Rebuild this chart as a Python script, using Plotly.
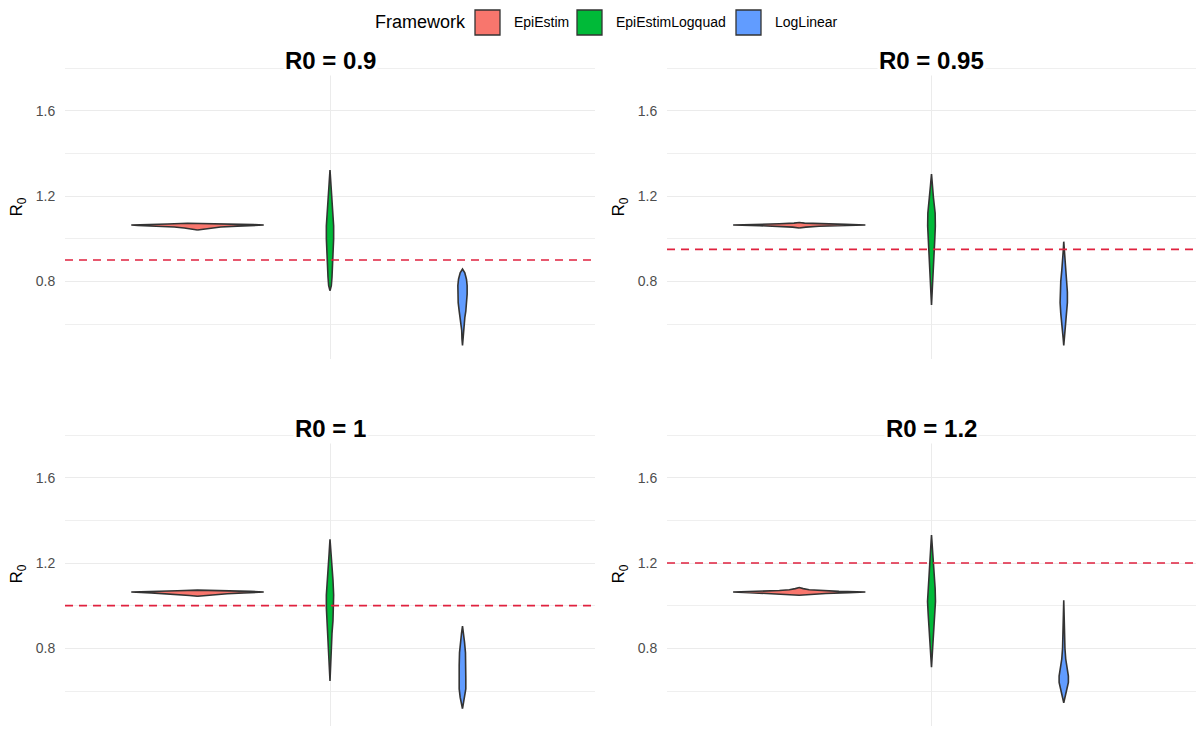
import plotly.graph_objects as go

# ---------------- data ----------------
R0_VALUES = [0.9, 0.95, 1, 1.2]
PANEL_TITLES = ["R0 = 0.9", "R0 = 0.95", "R0 = 1", "R0 = 1.2"]
FRAMEWORKS = ["EpiEstim", "EpiEstimLogquad", "LogLinear"]
FILL_COLORS = ["#F8766D", "#00BA38", "#619CFF"]
Y_TICKS = [0.8, 1.2, 1.6]
Y_MINOR = [0.6, 1.0, 1.4, 1.8]

# violin density profiles: y grid and relative density (1 = widest violin in the panel)
epi_090_y = [1.041, 1.045, 1.050, 1.055, 1.059, 1.062, 1.064, 1.066, 1.069, 1.072, 1.074]
epi_090_d = [0, 0.08, 0.2, 0.35, 0.6, 0.9, 1.0, 0.85, 0.45, 0.15, 0]
lq_090_y = [0.756, 0.78, 0.82, 0.88, 0.94, 1.00, 1.06, 1.12, 1.18, 1.25, 1.322]
lq_090_d = [0, 0.02, 0.03, 0.04, 0.05, 0.055, 0.055, 0.045, 0.03, 0.015, 0]
ll_090_y = [0.50, 0.53, 0.57, 0.60, 0.63, 0.66, 0.70, 0.74, 0.78, 0.81, 0.84, 0.858]
ll_090_d = [0, 0.008, 0.012, 0.02, 0.035, 0.05, 0.065, 0.07, 0.07, 0.06, 0.035, 0]

epi_095_y = [1.050, 1.054, 1.058, 1.061, 1.064, 1.067, 1.070, 1.073, 1.076]
epi_095_d = [0, 0.1, 0.3, 0.6, 1.0, 0.7, 0.3, 0.08, 0]
lq_095_y = [0.689, 0.75, 0.82, 0.88, 0.94, 1.00, 1.06, 1.12, 1.19, 1.25, 1.303]
lq_095_d = [0, 0.012, 0.02, 0.03, 0.04, 0.05, 0.058, 0.055, 0.03, 0.015, 0]
ll_095_y = [0.50, 0.53, 0.57, 0.61, 0.65, 0.70, 0.75, 0.80, 0.85, 0.90, 0.95, 0.986]
ll_095_d = [0, 0.008, 0.015, 0.03, 0.045, 0.055, 0.055, 0.045, 0.03, 0.015, 0.006, 0]

epi_100_y = [1.044, 1.048, 1.052, 1.056, 1.060, 1.064, 1.067, 1.070, 1.073]
epi_100_d = [0, 0.12, 0.3, 0.45, 0.7, 1.0, 0.8, 0.3, 0]
lq_100_y = [0.647, 0.72, 0.80, 0.87, 0.93, 0.99, 1.05, 1.12, 1.18, 1.25, 1.311]
lq_100_d = [0, 0.01, 0.015, 0.03, 0.045, 0.055, 0.055, 0.045, 0.03, 0.012, 0]
ll_100_y = [0.517, 0.54, 0.57, 0.61, 0.66, 0.72, 0.78, 0.83, 0.87, 0.904]
ll_100_d = [0, 0.015, 0.035, 0.05, 0.05, 0.05, 0.045, 0.03, 0.015, 0]

epi_120_y = [1.049, 1.053, 1.057, 1.061, 1.064, 1.067, 1.071, 1.075, 1.080, 1.085]
epi_120_d = [0, 0.15, 0.4, 0.75, 1.0, 0.6, 0.3, 0.15, 0.06, 0]
lq_120_y = [0.712, 0.77, 0.84, 0.90, 0.96, 1.02, 1.08, 1.14, 1.20, 1.27, 1.331]
lq_120_d = [0, 0.012, 0.02, 0.035, 0.05, 0.06, 0.055, 0.04, 0.025, 0.012, 0]
ll_120_y = [0.545, 0.57, 0.60, 0.64, 0.67, 0.71, 0.75, 0.80, 0.85, 0.90, 0.96, 1.025]
ll_120_d = [0, 0.02, 0.045, 0.07, 0.07, 0.05, 0.03, 0.018, 0.012, 0.008, 0.005, 0]

PANEL_VIOLINS = [
    [(epi_090_y, epi_090_d), (lq_090_y, lq_090_d), (ll_090_y, ll_090_d)],
    [(epi_095_y, epi_095_d), (lq_095_y, lq_095_d), (ll_095_y, ll_095_d)],
    [(epi_100_y, epi_100_d), (lq_100_y, lq_100_d), (ll_100_y, ll_100_d)],
    [(epi_120_y, epi_120_d), (lq_120_y, lq_120_d), (ll_120_y, ll_120_d)],
]

# ---------------- layout geometry ----------------
W, H = 1200, 736
DODGE = 0.3          # spacing between dodged violins (category units)
HALF_W = 0.15        # max half width of a violin
X_RANGE = [0.4, 1.6]
Y_RANGE = [0.436, 1.861]
FONT = "Liberation Sans, Arial, sans-serif"

px_x = [(65, 595), (667, 1196), (65, 595), (667, 1196)]
px_y = [(55, 359), (55, 359), (422, 726), (422, 726)]

fig = go.Figure()

def ax_name(i, kind):
    return kind if i == 0 else f"{kind}{i+1}"

for i in range(4):
    xa, ya = ax_name(i, "x"), ax_name(i, "y")
    for j, (ys, ds) in enumerate(PANEL_VIOLINS[i]):
        c = 1 + (j - 1) * DODGE
        xs = [c + d * HALF_W for d in ds] + [c - d * HALF_W for d in reversed(ds)]
        yy = list(ys) + list(reversed(ys))
        fig.add_trace(go.Scatter(
            x=xs, y=yy, xaxis=xa, yaxis=ya, mode="lines", fill="toself",
            fillcolor=FILL_COLORS[j], line=dict(color="#333333", width=1.6),
            name=FRAMEWORKS[j], showlegend=False, hoverinfo="name"))
    # reference line
    fig.add_shape(type="line", xref=f"{xa} domain", yref=ya, x0=0, x1=1,
                  y0=R0_VALUES[i], y1=R0_VALUES[i],
                  line=dict(color="#E0223F", width=1.7, dash="8px,6px"))
    # panel title
    x0p, x1p = px_x[i]
    fig.add_annotation(xref="paper", yref="paper", x=(x0p + x1p) / 2 / W,
                       y=1 - (px_y[i][0] + 6) / H, text=f"<b>{PANEL_TITLES[i]}</b>",
                       showarrow=False, font=dict(size=24, color="black", family=FONT),
                       xanchor="center", yanchor="middle", bgcolor="white")

    axis_x = dict(domain=[px_x[i][0] / W, px_x[i][1] / W], range=X_RANGE,
                  tickvals=[1], showticklabels=False, ticks="", showgrid=True,
                  gridcolor="#EBEBEB", gridwidth=1.2, zeroline=False, showline=False,
                  automargin=False, anchor=ya)
    axis_y = dict(domain=[1 - px_y[i][1] / H, 1 - px_y[i][0] / H], range=Y_RANGE,
                  tickvals=Y_TICKS, ticktext=[f"{v:.1f}" for v in Y_TICKS],
                  ticks="outside", ticklen=6, tickcolor="rgba(0,0,0,0)",
                  tickfont=dict(size=14, color="#4D4D4D", family=FONT),
                  showgrid=True, gridcolor="#EBEBEB", gridwidth=1.2,
                  minor=dict(tickvals=Y_MINOR, showgrid=True, gridcolor="#EFEFEF",
                             gridwidth=0.7, ticks=""),
                  zeroline=False, showline=False, automargin=False, anchor=xa,
                  title=dict(text="R<sub>0</sub>", standoff=8,
                             font=dict(size=17, color="black", family=FONT)))
    fig.update_layout(**{("xaxis" if i == 0 else f"xaxis{i+1}"): axis_x,
                         ("yaxis" if i == 0 else f"yaxis{i+1}"): axis_y})

# ---------------- legend (drawn ggplot style) ----------------
fig.add_annotation(xref="paper", yref="paper", x=373 / W, y=1 - 22 / H,
                   text="Framework", showarrow=False, xanchor="left", yanchor="middle",
                   font=dict(size=18, color="black", family=FONT))
key_x = [475, 577, 736]
lab_x = [512, 614, 773]
for j, name in enumerate(FRAMEWORKS):
    fig.add_shape(type="rect", xref="paper", yref="paper",
                  x0=key_x[j] / W, x1=(key_x[j] + 25) / W,
                  y0=1 - 35 / H, y1=1 - 10 / H,
                  fillcolor=FILL_COLORS[j], line=dict(color="#333333", width=1.3))
    fig.add_annotation(xref="paper", yref="paper", x=lab_x[j] / W, y=1 - 22 / H,
                       text=name, showarrow=False, xanchor="left", yanchor="middle",
                       font=dict(size=14, color="black", family=FONT))

fig.update_layout(width=W, height=H, template="none",
                  margin=dict(l=0, r=0, t=0, b=0),
                  paper_bgcolor="white", plot_bgcolor="white", showlegend=False)

fig.write_html("out.html", config={"displayModeBar": False},
               post_script="document.body.style.margin='0';document.body.style.padding='0';")
